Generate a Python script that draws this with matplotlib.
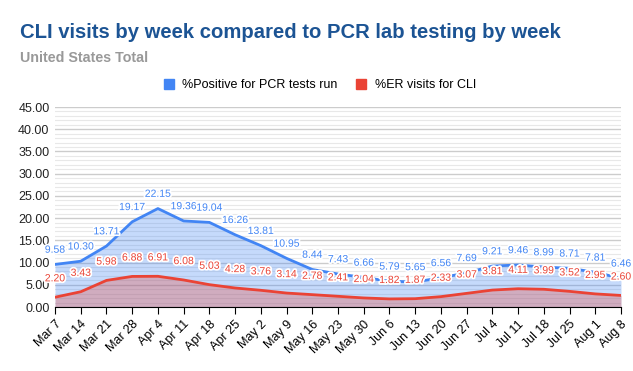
import matplotlib.pyplot as plt
import matplotlib.patheffects as pe
from matplotlib.patches import Patch
from matplotlib.ticker import MultipleLocator, FormatStrFormatter
import numpy as np

plt.rcParams['font.family'] = ['Liberation Sans', 'DejaVu Sans']

weeks = ["Mar 7", "Mar 14", "Mar 21", "Mar 28", "Apr 4", "Apr 11", "Apr 18", "Apr 25",
         "May 2", "May 9", "May 16", "May 23", "May 30", "Jun 6", "Jun 13", "Jun 20",
         "Jun 27", "Jul 4", "Jul 11", "Jul 18", "Jul 25", "Aug 1", "Aug 8"]
pct_positive = [9.58, 10.30, 13.71, 19.17, 22.15, 19.36, 19.04, 16.26, 13.81, 10.95, 8.44,
                7.43, 6.66, 5.79, 5.65, 6.56, 7.69, 9.21, 9.46, 8.99, 8.71, 7.81, 6.46]
pct_er_cli = [2.20, 3.43, 5.98, 6.88, 6.91, 6.08, 5.03, 4.28, 3.76, 3.14, 2.78,
              2.41, 2.04, 1.82, 1.87, 2.33, 3.07, 3.81, 4.11, 3.99, 3.52, 2.95, 2.60]

BLUE = "#4285F4"
RED = "#EA4335"

fig = plt.figure(figsize=(6.33, 3.71), dpi=100)
ax = fig.add_axes([55 / 633, (371 - 307) / 371, 566 / 633, 200 / 371])

x = np.arange(len(weeks))
ax.fill_between(x, pct_positive, color=BLUE, alpha=0.3, lw=0)
ax.fill_between(x, pct_er_cli, color=RED, alpha=0.3, lw=0)
ax.plot(x, pct_positive, color=BLUE, lw=2)
ax.plot(x, pct_er_cli, color=RED, lw=2)

# data labels with a white halo
halo = [pe.withStroke(linewidth=2.5, foreground="white")]
for xi, v in zip(x, pct_positive):
    ax.annotate(f"{v:.2f}", (xi, v), xytext=(0, 7), textcoords="offset points",
                ha="center", va="bottom", fontsize=7.5, color=BLUE, path_effects=halo)
for xi, v in zip(x, pct_er_cli):
    ax.annotate(f"{v:.2f}", (xi, v), xytext=(0, 10), textcoords="offset points",
                ha="center", va="bottom", fontsize=7.5, color=RED, path_effects=halo)

ax.set_xlim(0, len(weeks) - 1)
ax.set_ylim(0, 45)
ax.yaxis.set_major_locator(MultipleLocator(5))
ax.yaxis.set_minor_locator(MultipleLocator(1))
ax.yaxis.set_major_formatter(FormatStrFormatter("%.2f"))
ax.grid(which="major", axis="y", color="#cccccc", lw=1)
ax.grid(which="minor", axis="y", color="#e8e8e8", lw=0.8)
ax.set_axisbelow(True)

ax.set_xticks(x)
ax.set_xticklabels(weeks, rotation=45, ha="right", rotation_mode="anchor", fontsize=9)
ax.tick_params(axis="x", direction="out", length=5, color="black", pad=3)
ax.tick_params(axis="y", which="both", length=0, labelsize=9, pad=4, labelcolor="#222222")

for s in ["top", "right", "left"]:
    ax.spines[s].set_visible(False)
ax.spines["bottom"].set_color("black")

fig.text(20 / 633, 1 - 33 / 371, "CLI visits by week compared to PCR lab testing by week",
         fontsize=14.6, fontweight="bold", color="#1c5494", va="center")
fig.text(20 / 633, 1 - 58 / 371, "United States Total",
         fontsize=10.3, fontweight="bold", color="#999999", va="center")

fig.legend(handles=[Patch(color=BLUE, label="%Positive for PCR tests run"),
                    Patch(color=RED, label="%ER visits for CLI")],
           loc="center", bbox_to_anchor=(320 / 633, 1 - 85 / 371), ncol=2, frameon=False,
           fontsize=9, handlelength=0.8, handleheight=0.8, columnspacing=1.5, handletextpad=0.7)

fig.savefig("out.png", dpi=100)
